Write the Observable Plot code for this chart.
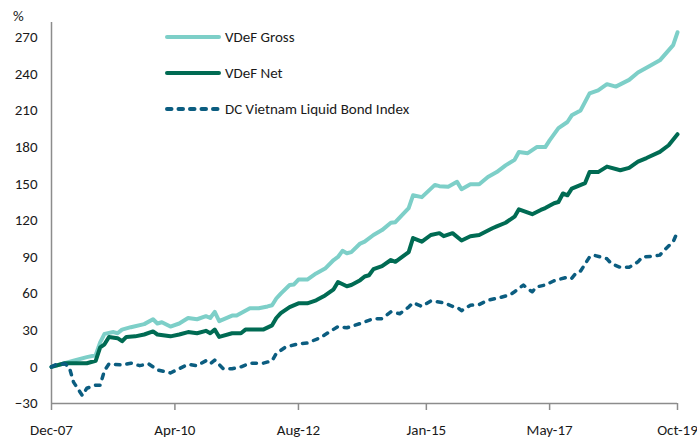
<!DOCTYPE html>
<html>
<head>
<meta charset="utf-8">
<script src="https://cdn.jsdelivr.net/npm/d3@7"></script>
<script src="https://cdn.jsdelivr.net/npm/@observablehq/plot@0.6"></script>
<style>
  html, body { margin: 0; padding: 0; background: #fff; }
  #wrap { position: relative; width: 697px; height: 439px; font-family: Carlito, "Liberation Sans Narrow", Lato, sans-serif; color: #1a1a1a; }
  #unit { position: absolute; left: 13px; top: 7px; font-size: 15px; }
  .leg { position: absolute; left: 165px; height: 20px; display: flex; align-items: center; font-size: 15px; white-space: nowrap; }
  .leg svg { margin-right: 4px; }
</style>
</head>
<body>
<div id="wrap">
  <div id="chart"></div>
  <div id="unit">%</div>
  <div id="legend"></div>
</div>
<script>
// ---- data ----
const seriesNames = ["VDeF Gross", "VDeF Net", "DC Vietnam Liquid Bond Index"];
const seriesColors = ["#7dcfc8", "#006b53", "#0b5d80"];

const grossDates = ["2007-12","2008-05","2008-08","2008-10","2008-11","2008-12","2009-02","2009-03","2009-04","2009-06","2009-09","2009-11","2009-12","2010-01","2010-03","2010-05","2010-07","2010-09","2010-11","2010-12","2011-01","2011-02","2011-05","2011-06","2011-09","2011-11","2012-01","2012-02","2012-03","2012-04","2012-06","2012-07","2012-08","2012-10","2012-12","2013-02","2013-04","2013-05","2013-06","2013-07","2013-08","2013-10","2013-11","2014-01","2014-03","2014-05","2014-06","2014-09","2014-10","2014-12","2015-03","2015-04","2015-06","2015-08","2015-09","2015-11","2016-01","2016-03","2016-05","2016-07","2016-09","2016-10","2016-12","2017-02","2017-04","2017-05","2017-07","2017-09","2017-10","2017-12","2018-02","2018-04","2018-06","2018-08","2018-11","2019-01","2019-04","2019-06","2019-09","2019-10"];
const grossValues = [0,5,8,9.5,20,27,28.5,27.5,30.5,32.5,35,39,35.5,36.5,33,35.5,40,39,41.5,40,45,37.5,42,42,48,48,49.5,50.5,56,60,67,67.5,71.5,71.5,76.5,80.5,87.5,90,95,93,94,101,102.5,108,112,118,118.5,130,140.5,139,149,148,147.5,151.5,145.5,149.5,149.5,155.5,159.5,165,169.5,176,175,180,180,185.5,195.5,200.5,206,210,224,226.5,231.5,229.5,235,241,247,251,263.5,274];

const netDates = ["2007-12","2008-03","2008-08","2008-10","2008-11","2008-12","2009-01","2009-03","2009-04","2009-05","2009-07","2009-09","2009-11","2009-12","2010-03","2010-05","2010-07","2010-09","2010-11","2010-12","2011-01","2011-02","2011-05","2011-07","2011-08","2011-12","2012-02","2012-03","2012-04","2012-06","2012-08","2012-10","2012-12","2013-02","2013-04","2013-05","2013-07","2013-08","2013-10","2013-11","2013-12","2014-01","2014-03","2014-05","2014-06","2014-09","2014-10","2014-12","2015-02","2015-04","2015-05","2015-07","2015-09","2015-11","2016-01","2016-04","2016-05","2016-07","2016-09","2016-10","2017-01","2017-03","2017-04","2017-06","2017-07","2017-08","2017-09","2017-10","2018-01","2018-02","2018-04","2018-06","2018-09","2018-11","2019-01","2019-03","2019-06","2019-08","2019-10"];
const netValues = [0,3,3,5,16,18.5,24.5,23.5,21,24.5,25,26.5,29,26.5,25,26.5,28.5,27.5,29.5,27.5,30.5,24.5,27.5,27.5,30.5,30.5,34,40,44,49,52,52,54.5,58.5,63.5,69.5,66,67,71,74,75,80,82.5,87.5,86,94,105.5,102.5,108,109.5,107,109.5,103.5,107,108,113.5,115,118,123,129,125,128.5,130,134,135,142,140.5,146,150.5,159.5,159.5,164,161,163,168,171,176,181.5,190.5];

const bondDates = ["2007-12","2008-01","2008-03","2008-04","2008-05","2008-07","2008-08","2008-10","2008-11","2008-12","2009-01","2009-04","2009-06","2009-08","2009-10","2009-11","2009-12","2010-03","2010-05","2010-07","2010-09","2010-11","2010-12","2011-01","2011-03","2011-05","2011-07","2011-09","2011-12","2012-02","2012-03","2012-04","2012-05","2012-08","2012-10","2013-01","2013-03","2013-05","2013-07","2013-10","2014-01","2014-03","2014-05","2014-07","2014-09","2014-10","2014-12","2015-02","2015-05","2015-07","2015-08","2015-09","2015-11","2016-01","2016-03","2016-06","2016-08","2016-09","2016-11","2016-12","2017-01","2017-02","2017-04","2017-06","2017-09","2017-10","2017-11","2017-12","2018-02","2018-03","2018-06","2018-07","2018-09","2018-11","2019-01","2019-02","2019-04","2019-06","2019-07","2019-09","2019-10"];
const bondValues = [0,2,2.5,0,-12.5,-23.5,-17.5,-15,-15,-3,2.5,1.5,3,1,2.5,0,-2.5,-5,-1.5,2,1,5,2.5,5.5,-1.5,-1.5,0,3,3,5,11,13.5,16,19,19.5,24,28.5,33,32,35.5,39.5,39.5,45,43.5,49,52.5,49.5,54,52.5,49.5,49,46,50.5,51,54.5,57,59,61.5,67,64,61.5,65.5,67,70.5,73.5,72.5,77,78.5,90,91.5,88.5,84.5,81.5,81.5,86,90,90.5,91.5,95.5,102.5,110.5];

const xStart = "2007-12";
const xEnd = "2019-10";
const xTickLabels = ["2007-12","2010-04","2012-08","2015-01","2017-05","2019-10"];
const yTicks = [-30, 0, 30, 60, 90, 120, 150, 180, 210, 240, 270];
const yMin = -30, yMax = 282;

// ---- build ----
const parse = d3.utcParse("%Y-%m");
const rows = (dates, values) => dates.map((d, i) => ({date: parse(d), value: values[i]}));
const gross = rows(grossDates, grossValues);
const net = rows(netDates, netValues);
const bond = rows(bondDates, bondValues);
const axisGray = "#8c8c8c";
const bondDash = "4.5,7";

const chart = Plot.plot({
  width: 697,
  height: 439,
  marginLeft: 51,
  marginRight: 20,
  marginTop: 22,
  marginBottom: 36,
  style: {fontFamily: 'Carlito, "Liberation Sans Narrow", Lato, sans-serif', fontSize: "15px", color: "#1a1a1a", background: "#fff"},
  x: {type: "utc", domain: [parse(xStart), parse(xEnd)]},
  y: {domain: [yMin, yMax]},
  marks: [
    Plot.ruleX([parse(xStart)], {stroke: axisGray, strokeWidth: 1.5}),
    Plot.ruleY([yMin], {stroke: axisGray, strokeWidth: 1.5}),
    Plot.axisY(yTicks, {tickSize: 0, tickPadding: 14, label: null, fill: "#1a1a1a"}),
    Plot.axisX(xTickLabels.map(parse), {tickSize: 7, tickPadding: 13.5, tickFormat: d3.utcFormat("%b-%y"), label: null, stroke: axisGray, fill: "#1a1a1a", strokeWidth: 1.5}),
    Plot.line(gross, {x: "date", y: "value", stroke: seriesColors[0], strokeWidth: 4}),
    Plot.line(net, {x: "date", y: "value", stroke: seriesColors[1], strokeWidth: 4}),
    Plot.line(bond, {x: "date", y: "value", stroke: seriesColors[2], strokeWidth: 3.5, strokeDasharray: bondDash, strokeLinecap: "round"})
  ]
});
document.getElementById("chart").appendChild(chart);

// ---- legend (inside plot area, top) ----
const legendTops = [27, 63, 99];
const legend = document.getElementById("legend");
seriesNames.forEach((name, i) => {
  const div = document.createElement("div");
  div.className = "leg";
  div.style.top = legendTops[i] + "px";
  const dash = i === 2 ? `stroke-dasharray="${bondDash}" stroke-linecap="round"` : 'stroke-linecap="round"';
  div.innerHTML = `<svg width="56" height="8"><line x1="2" y1="4" x2="54" y2="4" stroke="${seriesColors[i]}" stroke-width="4" ${dash}/></svg><span>${name}</span>`;
  legend.appendChild(div);
});
</script>
</body>
</html>
